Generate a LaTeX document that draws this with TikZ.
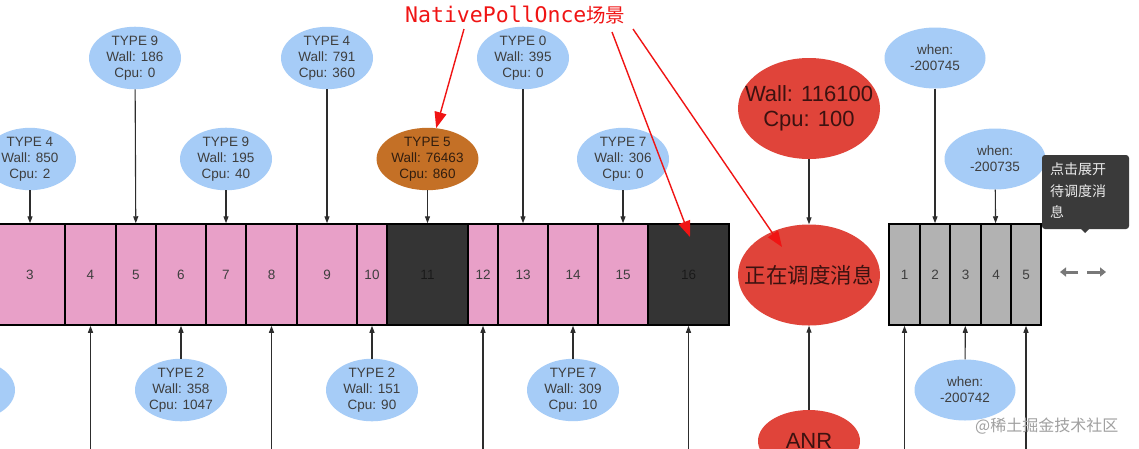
\documentclass[tikz,border=0pt]{standalone}
\usepackage{fontspec}
\setmainfont{Liberation Sans}
\newfontfamily\cjk{Noto Sans CJK SC}
\newfontfamily\annmono{DejaVu Sans Mono}
\usetikzlibrary{arrows.meta,shapes.geometric}
\definecolor{lblue}{RGB}{166,204,247}
\definecolor{pinkc}{RGB}{232,160,200}
\definecolor{darkc}{RGB}{52,52,52}
\definecolor{grayc}{RGB}{178,178,178}
\definecolor{redell}{RGB}{224,68,58}
\definecolor{brownell}{RGB}{196,112,38}
\definecolor{tipbg}{RGB}{58,58,58}
\definecolor{txtc}{RGB}{62,62,62}
\definecolor{annred}{RGB}{240,20,20}
\definecolor{linec}{RGB}{45,45,45}
\definecolor{redtxt}{RGB}{60,18,16}
\tikzset{
  ell/.style={ellipse, fill=lblue, minimum width=92pt, minimum height=61pt, inner sep=0pt,
    align=center, text=txtc, font=\fontsize{13.5}{16}\selectfont},
  whenell/.style={ell, minimum width=101pt},
  bigred/.style={ellipse, fill=redell, minimum width=142pt, minimum height=101pt, inner sep=0pt},
  bigtext/.style={inner sep=0pt, align=center, text=redtxt, font=\fontsize{22}{25}\selectfont},
  cellbox/.style={draw=black, line width=1.5pt, minimum height=101pt, inner sep=0pt,
    text=txtc, font=\fontsize{13.5}{16}\selectfont},
  conn/.style={draw=linec, line width=1.1pt, -{Triangle[length=7pt,width=5pt]}},
  redarrow/.style={draw=annred, line width=1.4pt, -{Triangle[length=16pt,width=12pt]}},
  iconarrow/.style={draw={rgb,255:red,120;green,120;blue,120}, line width=3pt, -{Triangle[length=6pt,width=9pt]}}
}
\begin{document}
\begin{tikzpicture}[x=1pt,y=-1pt]
\useasboundingbox (0,0) rectangle (1139,448);
\clip (0,0) rectangle (1139,448);
\fill[white] (0,0) rectangle (1139,448);
% main bar cells
\foreach \n/\cx/\w/\f in {3/30/70/pinkc,4/90.5/51/pinkc,5/136/40/pinkc,6/181/50/pinkc,7/226/40/pinkc,8/271.5/51/pinkc,9/327/60/pinkc,10/372/30/pinkc,11/427.5/81/darkc,12/483/30/pinkc,13/523/50/pinkc,14/573/50/pinkc,15/623/50/pinkc,16/688.5/81/darkc}
  \node[cellbox, fill=\f, minimum width=\w pt] (c\n) at (\cx,274.5) {\n};
\node[text={rgb,255:red,25;green,25;blue,25}, font=\fontsize{13.5}{16}\selectfont] at (c11) {11};
\node[text={rgb,255:red,25;green,25;blue,25}, font=\fontsize{13.5}{16}\selectfont] at (c16) {16};
% gray bar
\foreach \n/\cx/\w in {1/904.5/31,2/935/30,3/965.5/31,4/996/30,5/1026/30}
  \node[cellbox, fill=grayc, minimum width=\w pt] (g\n) at (\cx,274.5) {\n};
% top ellipses
\node[ell] (t3) at (30,159) {TYPE 4\\Wall: 850\\Cpu: 2};
\node[ell] (t5) at (135,58) {TYPE 9\\Wall: 186\\Cpu: 0};
\node[ell] (t7) at (226,159) {TYPE 9\\Wall: 195\\Cpu: 40};
\node[ell] (t9) at (327,58) {TYPE 4\\Wall: 791\\Cpu: 360};
\node[ell, fill=brownell, text={rgb,255:red,50;green,30;blue,15}] (t11) at (427.5,159) {TYPE 5\\Wall: 76463\\Cpu: 860};
\node[ell] (t13) at (523,58) {TYPE 0\\Wall: 395\\Cpu: 0};
\node[ell] (t15) at (623,159) {TYPE 7\\Wall: 306\\Cpu: 0};
% bottom ellipses
\node[ell] (bL) at (-31,390) {};
\node[ell] (b6) at (181,390) {TYPE 2\\Wall: 358\\Cpu: 1047};
\node[ell] (b10) at (372,390) {TYPE 2\\Wall: 151\\Cpu: 90};
\node[ell] (b14) at (573,390) {TYPE 7\\Wall: 309\\Cpu: 10};
% red ellipses
\node[bigred] (wall) at (809,108.5) {};
\node[bigtext] (walltxt) at (wall) {Wall: 116100\\Cpu: 100};
\node[bigred] (sched) at (809,275) {};
\node[bigtext, font=\cjk\fontsize{21.5}{25}\selectfont] (schedtxt) at (sched) {正在调度消息};
\node[bigred, minimum width=102pt, minimum height=62pt] (anr) at (809,441) {};
\node[bigtext] (anrtxt) at (809,441) {ANR};
% when ellipses
\node[whenell] (wh1) at (935,58) {when:\\-200745};
\node[whenell] (wh2) at (995,159) {when:\\-200735};
\node[whenell] (wh3) at (965,390) {when:\\-200742};
% off-picture sources
\coordinate (p4) at (90.5,470);
\coordinate (p8) at (271.5,470);
\coordinate (p12) at (483,470);
\coordinate (p16) at (688.5,470);
\coordinate (pg1) at (904.5,470);
\coordinate (pg5) at (1026,470);
% connectors top
\foreach \a/\b in {t3/c3,t5/c5,t7/c7,t9/c9,t11/c11,t13/c13,t15/c15,wh1/g2,wh2/g4,wall/sched}
  \draw[conn] (\a) -- (\b);
% connectors bottom
\foreach \a/\b in {p4/c4,b6/c6,p8/c8,b10/c10,p12/c12,b14/c14,p16/c16,pg1/g1,wh3/g3,pg5/g5,anr/sched}
  \draw[conn] (\a) -- (\b);
% tooltip
\fill[tipbg, rounded corners=3pt] (1042,155) rectangle (1129,229);
\fill[tipbg] (1080,228) -- (1090,228) -- (1085,233) -- cycle;
\node[anchor=north west, inner sep=0pt, align=left, text={rgb,255:red,235;green,235;blue,235},
  font=\cjk\fontsize{14}{21.5}\selectfont] (tip) at (1050,163) {点击展开\\待调度消\\息};
% arrow icons
\draw[iconarrow] (1078,272) -- (1060,272);
\draw[iconarrow] (1087,272) -- (1106,272);
% watermark
\node[anchor=base west, inner sep=0pt, text={rgb,255:red,160;green,160;blue,160},
  font=\cjk\fontsize{16}{18}\selectfont] (wm) at (975,431) {@稀土掘金技术社区};
% annotation
\node[anchor=base west, inner sep=0pt, text=annred, font=\annmono\fontsize{21.5}{24}\selectfont] (ann) at (405,22) {NativePollOnce{\cjk\fontsize{19.5}{22}\selectfont 场景}};
\coordinate (ra1) at (464,29);
\coordinate (ra2) at (612,32);
\coordinate (ra3) at (633,29);
\coordinate (e2) at (690,237);
\coordinate (e3) at (782,247);
\draw[redarrow] (ra1) -- (t11);
\draw[redarrow] (ra2) -- (e2);
\draw[redarrow] (ra3) -- (e3);
\end{tikzpicture}
\end{document}
